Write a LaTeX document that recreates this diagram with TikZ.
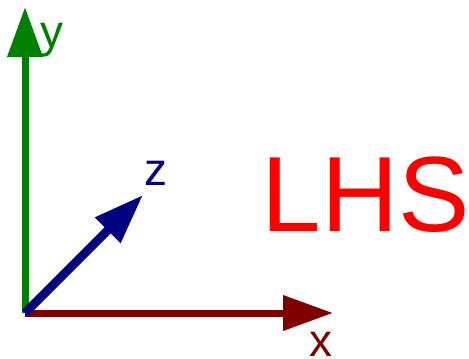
\documentclass[tikz,border=0pt]{standalone}
\usepackage{fontspec}
\setmainfont{Liberation Sans}
\usetikzlibrary{arrows.meta}
\definecolor{axgreen}{RGB}{0,128,0}
\definecolor{axred}{RGB}{128,0,0}
\definecolor{axblue}{RGB}{0,0,128}
\definecolor{lhsred}{RGB}{255,0,0}
\begin{document}
\begin{tikzpicture}[x=1pt,y=-1pt,
  axis/.style={line width=7pt, -{Triangle[length=50pt,width=34pt]}},
  lbl/.style={inner sep=0pt, anchor=base, font=\fontsize{46}{46}\selectfont}]
\useasboundingbox (0,0) rectangle (469,359);
\coordinate (o) at (25,313);
\coordinate (ytip) at (25,7);
\coordinate (xtip) at (333,313);
\coordinate (ztip) at (143,195);
\draw[axis, axgreen] (o) -- (ytip);
\draw[axis, axred] (o) -- (xtip);
\draw[axis, axblue, line width=8.5pt] (o) -- (ztip);
\node[lbl, text=axgreen] (ylab) at (52.5,47) {y};
\node[lbl, text=axred] (xlab) at (321,356) {x};
\node[lbl, text=axblue] (zlab) at (156,185) {z};
\node[inner sep=0pt, anchor=base, text=lhsred, font=\fontsize{107}{107}\selectfont] (lhs) at (366,231) {LHS};
\end{tikzpicture}
\end{document}
